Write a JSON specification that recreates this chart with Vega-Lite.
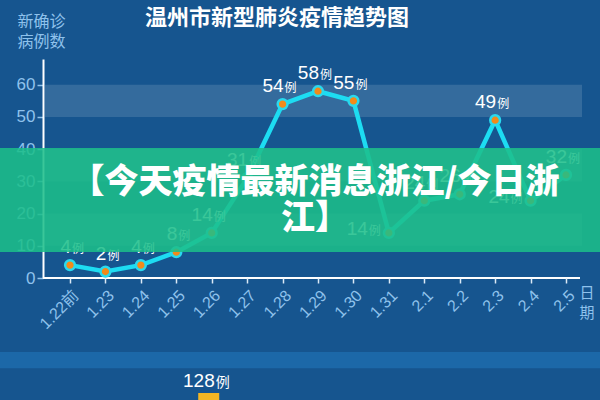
{
  "$schema": "https://vega.github.io/schema/vega-lite/v6.json",
  "width": 600,
  "height": 219,
  "autosize": {"type": "none"},
  "padding": {"left": 0, "top": 59, "right": 0, "bottom": 122},
  "background": "#16558f",
  "config": {
    "view": {"stroke": null},
    "font": "Noto Sans CJK SC",
    "axis": {"grid": false},
    "axisY": {
      "offset": -43,
      "labelOverlap": false,
      "titleAngle": 0,
      "titleAlign": "left",
      "titleBaseline": "top",
      "titleX": -26,
      "titleY": -46,
      "titleLineHeight": 20,
      "titleColor": "#8fc2ec",
      "titleFont": "Noto Sans CJK SC",
      "titleFontSize": 16,
      "titleFontWeight": "normal",
      "labelColor": "#8fc2ec",
      "labelFont": "Liberation Sans",
      "labelFontSize": 17,
      "labelPadding": 2,
      "domainColor": "#ffffff",
      "domainWidth": 2,
      "tickColor": "#8fc2ec",
      "tickSize": 6,
      "tickWidth": 1.5
    },
    "axisX": {
      "domain": false,
      "labelOverlap": false,
      "titleAngle": 0,
      "titleAlign": "left",
      "titleBaseline": "top",
      "titleX": 579,
      "titleY": 7,
      "titleLineHeight": 20,
      "titleColor": "#8fc2ec",
      "titleFont": "Noto Sans CJK SC",
      "titleFontSize": 15,
      "titleFontWeight": "normal",
      "labelAngle": -45,
      "labelColor": "#8fc2ec",
      "labelFont": "Liberation Sans, Noto Sans CJK SC",
      "labelFontSize": 16,
      "labelPadding": 4,
      "tickColor": "#dbe9f6",
      "tickSize": 5,
      "tickWidth": 1.5
    }
  },
  "title": {
    "text": "温州市新型肺炎疫情趋势图",
    "anchor": "start",
    "frame": "group",
    "dx": 145,
    "offset": -17,
    "color": "#ffffff",
    "font": "Noto Sans CJK SC",
    "fontSize": 22,
    "fontWeight": "bold"
  },
  "datasets": {
    "cases": [
      {"date": "1.22前", "value": 4},
      {"date": "1.23", "value": 2},
      {"date": "1.24", "value": 4},
      {"date": "1.25", "value": 8},
      {"date": "1.26", "value": 14},
      {"date": "1.27", "value": 31},
      {"date": "1.28", "value": 54},
      {"date": "1.29", "value": 58},
      {"date": "1.30", "value": 55},
      {"date": "1.31", "value": 14},
      {"date": "2.1", "value": 24},
      {"date": "2.2", "value": 26},
      {"date": "2.3", "value": 49},
      {"date": "2.4", "value": 24},
      {"date": "2.5", "value": 32}
    ],
    "bands": [
      {"lo": 10, "hi": 20},
      {"lo": 30, "hi": 40},
      {"lo": 50, "hi": 60}
    ],
    "other": [{"total": 128}]
  },
  "layer": [
    {
      "data": {"name": "bands"},
      "mark": {"type": "rect", "color": "#ffffff", "opacity": 0.13, "xOffset": -25, "x2Offset": 16},
      "encoding": {
        "x": {
          "datum": "1.22前", "type": "ordinal",
          "scale": {"type": "point", "range": [70, 566], "padding": 0, "domain": ["1.22前", "1.23", "1.24", "1.25", "1.26", "1.27", "1.28", "1.29", "1.30", "1.31", "2.1", "2.2", "2.3", "2.4", "2.5"]},
          "axis": {"title": ["日", "期"]}
        },
        "x2": {"datum": "2.5"},
        "y": {
          "field": "lo", "type": "quantitative",
          "scale": {"domain": [0, 68], "nice": false, "zero": true},
          "axis": {"values": [0, 10, 20, 30, 40, 50, 60], "tickCount": 7, "labelOverlap": false, "title": ["新确诊", "病例数"]}
        },
        "y2": {"field": "hi"}
      }
    },
    {
      "data": {"values": [{}]},
      "mark": {"type": "rect", "color": "#1c68a8"},
      "encoding": {
        "y": {"datum": -23, "type": "quantitative", "axis": {"values": [0, 10, 20, 30, 40, 50, 60], "tickCount": 7, "labelOverlap": false, "title": ["新确诊", "病例数"]}},
        "y2": {"datum": -28}
      }
    },
    {
      "data": {"values": [{}]},
      "mark": {"type": "rule", "color": "#ffffff", "strokeWidth": 2, "xOffset": -27, "x2Offset": 14},
      "encoding": {
        "x": {"datum": "1.22前", "type": "ordinal", "axis": {"title": ["日", "期"]}},
        "x2": {"datum": "2.5"},
        "y": {"datum": 0, "type": "quantitative", "axis": {"values": [0, 10, 20, 30, 40, 50, 60], "tickCount": 7, "labelOverlap": false, "title": ["新确诊", "病例数"]}}
      }
    },
    {
      "data": {"name": "cases"},
      "mark": {"type": "line", "color": "#1ddcf2", "strokeWidth": 4.5},
      "encoding": {
        "x": {"field": "date", "type": "ordinal", "sort": null, "axis": {"title": ["日", "期"]}},
        "y": {"field": "value", "type": "quantitative", "axis": {"values": [0, 10, 20, 30, 40, 50, 60], "tickCount": 7, "labelOverlap": false, "title": ["新确诊", "病例数"]}}
      }
    },
    {
      "data": {"name": "cases"},
      "mark": {"type": "point", "filled": true, "fill": "#f28a1a", "stroke": "#29d9ee", "strokeWidth": 2.5, "size": 95, "opacity": 1},
      "encoding": {
        "x": {"field": "date", "type": "ordinal", "sort": null},
        "y": {"field": "value", "type": "quantitative"}
      }
    },
    {
      "data": {"name": "cases"},
      "transform": [{"filter": "datum.date != '1.31' && datum.date != '2.4'"}],
      "mark": {"type": "text", "align": "right", "baseline": "alphabetic", "dx": 1, "dy": -12, "font": "Liberation Sans", "fontSize": 19, "color": "#ffffff"},
      "encoding": {
        "x": {"field": "date", "type": "ordinal", "sort": null},
        "y": {"field": "value", "type": "quantitative"},
        "text": {"field": "value", "type": "quantitative"}
      }
    },
    {
      "data": {"name": "cases"},
      "transform": [{"filter": "datum.date != '1.31' && datum.date != '2.4'"}],
      "mark": {"type": "text", "align": "left", "baseline": "alphabetic", "dx": 2, "dy": -12, "font": "Noto Sans CJK SC", "fontSize": 12, "color": "#ffffff", "text": "例"},
      "encoding": {
        "x": {"field": "date", "type": "ordinal", "sort": null},
        "y": {"field": "value", "type": "quantitative"}
      }
    },
    {
      "data": {"name": "cases"},
      "transform": [{"filter": "datum.date == '1.31' || datum.date == '2.4'"}],
      "mark": {"type": "text", "align": "right", "baseline": "alphabetic", "dx": -21, "dy": 2, "font": "Liberation Sans", "fontSize": 19, "color": "#ffffff"},
      "encoding": {
        "x": {"field": "date", "type": "ordinal", "sort": null},
        "y": {"field": "value", "type": "quantitative"},
        "text": {"field": "value", "type": "quantitative"}
      }
    },
    {
      "data": {"name": "cases"},
      "transform": [{"filter": "datum.date == '1.31' || datum.date == '2.4'"}],
      "mark": {"type": "text", "align": "left", "baseline": "alphabetic", "dx": -20, "dy": 2, "font": "Noto Sans CJK SC", "fontSize": 12, "color": "#ffffff", "text": "例"},
      "encoding": {
        "x": {"field": "date", "type": "ordinal", "sort": null},
        "y": {"field": "value", "type": "quantitative"}
      }
    },
    {
      "data": {"name": "other"},
      "mark": {"type": "text", "align": "right", "baseline": "alphabetic", "dx": 3, "font": "Liberation Sans", "fontSize": 19, "color": "#ffffff"},
      "encoding": {
        "x": {"datum": "1.26", "type": "ordinal"},
        "y": {"datum": -33.8, "type": "quantitative"},
        "text": {"field": "total", "type": "quantitative"}
      }
    },
    {
      "data": {"name": "other"},
      "mark": {"type": "text", "align": "left", "baseline": "alphabetic", "dx": 4, "font": "Noto Sans CJK SC", "fontSize": 14, "color": "#ffffff", "text": "例"},
      "encoding": {
        "x": {"datum": "1.26", "type": "ordinal"},
        "y": {"datum": -33.8, "type": "quantitative"}
      }
    },
    {
      "data": {"name": "other"},
      "mark": {"type": "bar", "color": "#f3b623", "width": 21, "xOffset": -3},
      "encoding": {
        "x": {"datum": "1.26", "type": "ordinal"},
        "y": {"datum": -35.7, "type": "quantitative"},
        "y2": {"datum": -40}
      }
    },
    {
      "data": {"values": [{}]},
      "mark": {"type": "rect", "color": "#1dbf8a", "opacity": 0.87},
      "encoding": {
        "y": {"datum": 40.4, "type": "quantitative"},
        "y2": {"datum": 8.1}
      }
    },
    {
      "data": {"values": [{}]},
      "mark": {
        "type": "text",
        "text": ["【今天疫情最新消息浙江/今日浙", "江】"],
        "align": "center",
        "baseline": "top",
        "dx": 15,
        "lineHeight": 36,
        "font": "Noto Sans CJK SC",
        "fontWeight": 900,
        "fontSize": 34,
        "color": "#ffffff"
      },
      "encoding": {
        "y": {"datum": 34.8, "type": "quantitative"}
      }
    }
  ]
}
